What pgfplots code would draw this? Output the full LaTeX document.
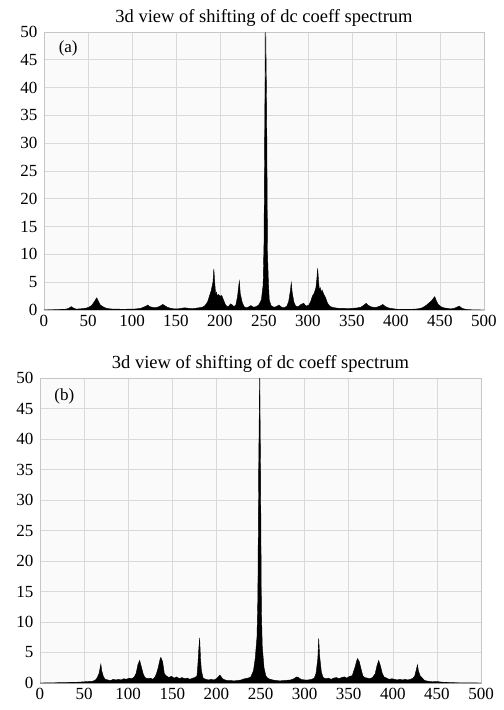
\documentclass[border=0pt]{standalone}
\usepackage{pgfplots}
\pgfplotsset{compat=1.18}
\usepackage{fontspec}
\setmainfont{Liberation Serif}

\pgfplotsset{
  spec/.style={
    scale only axis,
    xmin=0, xmax=500, ymin=0, ymax=50,
    xtick={0,50,...,500},
    ytick={0,5,...,50},
    grid=major,
    major grid style={gray!30, line width=0.6pt},
    axis line style={gray!45},
    axis background/.style={fill=gray!4},
    major tick length=0pt,
    tick label style={font=\fontsize{17bp}{17bp}\selectfont},
    /pgf/number format/assume math mode=true,
    xticklabel style={yshift=-2bp},
    yticklabel style={xshift=-3bp},
    title style={font=\fontsize{18.5bp}{18.5bp}\selectfont, yshift=-4bp},
    title={3d view of shifting of dc coeff spectrum},
  },
}

\begin{document}
\begin{tikzpicture}
\useasboundingbox (0,0) rectangle (504bp,710bp);

% panel (a)
\begin{axis}[spec, at={(44bp,400bp)}, anchor=south west, width=440bp, height=278bp]
  \addplot[black, fill=black, line width=0.4pt] coordinates {
    (0,0)(5,0.05)(10,0.05)(15,0.08)(20,0.1)(25,0.15)(28,0.3)(31,0.6)(34,0.3)(37,0.15)
    (40,0.2)(44,0.25)(48,0.35)(51,0.5)(54,0.8)(56,1.2)(58,1.7)(60,2.2)(62,1.5)(64,0.9)
    (66,0.7)(68,0.5)(71,0.3)(75,0.2)(80,0.15)(85,0.15)(90,0.12)(95,0.15)(100,0.15)
    (105,0.2)(110,0.3)(113,0.5)(116,0.7)(118,0.9)(120,0.6)(123,0.5)(126,0.4)(129,0.5)
    (132,0.7)(135,1.0)(137,0.8)(140,0.5)(144,0.3)(148,0.2)(152,0.2)(156,0.3)(160,0.4)
    (164,0.3)(168,0.25)(172,0.3)(176,0.4)(180,0.5)(183,0.8)(186,1.5)(188,2.5)(190,3.5)
    (192,5)(193,7.4)(194,5)(195,2.9)(196,3.2)(197,2.4)(198,2.8)(200,2.5)(202,2.6)(204,1.8)(206,1.0)
    (208,0.6)(210,0.7)(212,1.1)(214,0.9)(216,0.6)(218,0.9)(220,2.5)(221,4)(222,5.2)
    (223,3)(225,1.5)(227,0.7)(229,0.4)(232,0.5)(235,0.8)(238,0.5)(241,0.6)(244,0.9)
    (247,1.8)(249,4.5)(250,12)(251,36)(252,50)(253,36)(254,10)(255,5)(256,1.8)(258,0.8)
    (261,0.5)(264,0.6)(267,0.9)(270,0.5)(273,0.4)(276,0.7)(278,1.5)(280,3.5)(281,4.9)
    (282,3.2)(284,1.4)(286,0.7)(289,0.6)(292,1.0)(295,1.2)(298,0.7)(301,0.9)(303,1.5)
    (305,2.5)(307,3)(309,4)(310,5.5)(311,7.5)(312,5.2)(313,3.6)(314,4)(315,3.1)(316,3.6)(318,2.8)(320,2.2)
    (322,1.3)(324,0.8)(327,0.5)(330,0.4)(335,0.3)(340,0.3)(345,0.25)(350,0.3)(355,0.35)
    (360,0.5)(363,0.8)(366,1.2)(368,0.9)(371,0.6)(374,0.5)(377,0.45)(380,0.6)(383,0.8)
    (385,1.0)(388,0.6)(392,0.35)(396,0.25)(400,0.15)(405,0.12)(410,0.1)(415,0.1)
    (420,0.15)(425,0.2)(430,0.4)(434,0.8)(437,1.2)(440,1.6)(442,2.0)(444,2.4)(446,1.6)
    (448,1.0)(451,0.6)(454,0.4)(458,0.3)(462,0.2)(466,0.3)(469,0.5)(472,0.7)(475,0.3)
    (480,0.1)(485,0.05)(490,0.02)(500,0)
  } \closedcycle;
  \node[font=\fontsize{17bp}{17bp}\selectfont] at (rel axis cs:0.055,0.94) {(a)};
\end{axis}

% panel (b)
\begin{axis}[spec, at={(40bp,27bp)}, anchor=south west, width=441bp, height=305bp]
  \addplot[black, fill=black, line width=0.4pt] coordinates {
    (0,0)(10,0.02)(20,0.05)(30,0.08)(38,0.1)(45,0.15)(50,0.2)(55,0.25)(60,0.3)(63,0.5)
    (65,0.9)(67,1.6)(69,3.1)(70,2)(72,1.0)(74,0.6)(77,0.5)(80,0.4)(83,0.6)(86,0.5)
    (89,0.6)(92,0.5)(95,0.7)(98,0.6)(101,0.8)(104,0.7)(107,1.0)(109,1.6)(111,3.0)
    (113,3.7)(115,2.6)(117,1.5)(119,0.9)(122,0.7)(125,0.8)(128,0.6)(130,0.9)(132,1.5)
    (134,2.5)(136,3.8)(137,4.2)(139,3.5)(141,1.5)(143,1.2)(146,0.9)(149,1.1)(152,0.8)
    (155,1.0)(158,0.7)(161,0.9)(164,0.7)(167,0.8)(170,0.6)(173,0.8)(176,0.9)(178,1.2)
    (179,3)(180,5.5)(181,7.4)(182,4)(183,2)(185,0.8)(188,0.6)(191,0.5)(194,0.6)(197,0.5)
    (200,0.7)(202,1.0)(204,1.3)(206,0.9)(208,0.6)(212,0.4)(216,0.4)(220,0.35)(224,0.4)
    (228,0.5)(232,0.7)(236,0.8)(239,1.0)(242,2.0)(244,4)(246,7.5)(247,14)(248,36)
    (249,50)(250,36)(251,12)(252,6)(254,2.5)(256,1.2)(258,0.8)(261,0.6)(264,0.5)
    (268,0.4)(272,0.35)(276,0.4)(280,0.45)(284,0.5)(288,0.7)(291,1.0)(293,0.9)(296,0.6)
    (300,0.5)(304,0.5)(308,0.6)(311,0.8)(313,1.6)(315,4)(316,7.3)(317,4.5)(319,1.8)
    (321,0.9)(324,0.7)(327,0.8)(330,0.6)(333,0.8)(336,0.9)(339,0.7)(342,0.9)(345,1.0)
    (348,0.8)(351,1.1)(354,1.2)(357,2.5)(359,3.6)(360,4.0)(362,3.5)(364,2.3)(366,1.2)
    (368,0.9)(371,0.8)(374,0.7)(377,0.9)(380,1.5)(382,2.8)(384,3.7)(386,2.8)(388,1.6)
    (390,1.0)(393,0.8)(396,0.6)(399,0.7)(402,0.6)(405,0.5)(408,0.6)(411,0.5)(414,0.6)
    (417,0.5)(420,0.6)(423,0.8)(425,1.2)(427,2.4)(428,3.0)(429,2.0)(431,1.2)(433,0.9)
    (436,0.4)(440,0.3)(445,0.2)(450,0.25)(455,0.15)(460,0.1)(470,0.05)(480,0.03)
    (490,0.02)(500,0)
  } \closedcycle;
  \node[font=\fontsize{17bp}{17bp}\selectfont] at (rel axis cs:0.055,0.94) {(b)};
\end{axis}
\end{tikzpicture}
\end{document}
